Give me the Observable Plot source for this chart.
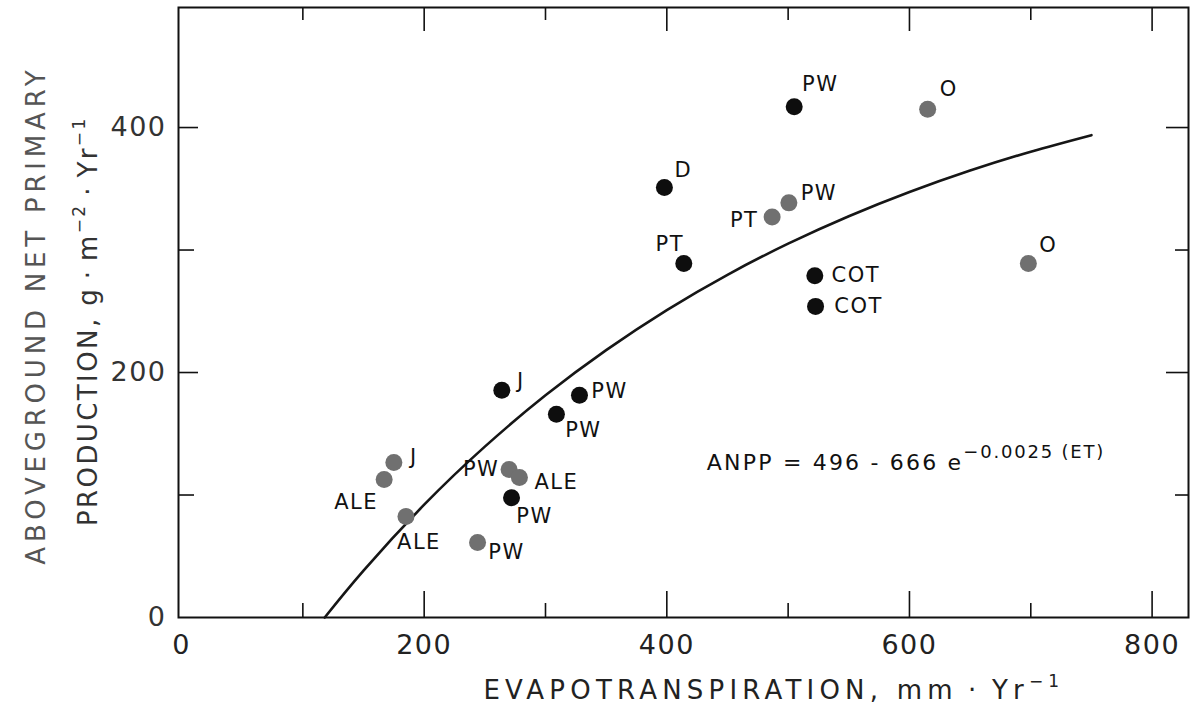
<!DOCTYPE html>
<html><head><meta charset="utf-8">
<script src="https://cdn.jsdelivr.net/npm/d3@7"></script>
<script src="https://cdn.jsdelivr.net/npm/@observablehq/plot@0.6"></script>
<style>html,body{margin:0;padding:0;background:#fff}</style>
</head><body><div id="chart"></div>
<script>
// ---- data ----
const sites = ["PW","D","PT","COT","COT","J","PW","PW","PW","PW","O","O","PT","J","ALE","ALE","PW","ALE","PW"];
const et    = [505, 398, 414, 522, 522.6, 264, 328, 309, 272, 500.6, 615, 698, 486.8, 175, 167, 185, 270, 278.5, 244];
const anpp  = [417, 351, 289, 279, 254, 185.5, 181.5, 166, 97.7, 338.5, 415, 289, 327, 126.5, 112.7, 82.4, 120.8, 114.3, 61.2];
const tone  = ["dark","dark","dark","dark","dark","dark","dark","dark","dark","gray","gray","gray","gray","gray","gray","gray","gray","gray","gray"];

// fitted curve (ANPP = 496 - 666 e^(-0.0025 ET))
const curveET   = [118, 150, 200, 250, 300, 350, 400, 450, 500, 550, 600, 650, 700, 750];
const curveANPP = [0, 38.3, 92.1, 139.5, 181.4, 218.3, 251.0, 279.8, 305.2, 327.6, 347.4, 364.9, 380.3, 393.8];

const xTickLabels = [0, 200, 400, 600, 800];
const xMajor = [200, 400, 600, 800];
const xMinor = [100, 300, 500, 700];
const yTickLabels = [0, 200, 400];
const yMajor = [200, 400];
const yMinor = [100, 300];

const equation = [{et: 433, anpp: 126, text: "ANPP = 496 - 666 e", sup: "\u22120.0025 (ET)"}];

// label placement (pixel offsets from each dot to its label centre)
const labelPlace = [
  [26,-22],[19,-17],[-14,-19],[41,0],[43,0],[19,-9],[30,-4],[27,16],[23,18],[30,-10],
  [21,-20],[20,-18],[-28,3],[20,-5],[-28,23],[13,26],[-28,0],[37,5],[29,10]
];

const data = sites.map((s, i) => ({site: s, et: et[i], anpp: anpp[i], tone: tone[i]}));
const curve = curveET.map((x, i) => ({et: x, anpp: curveANPP[i]}));

const W = 1198, H = 708;
const mL = 178, mR = 10, mT = 7, mB = 91;
const fw = W - mL - mR, fh = H - mT - mB;

const labelMarks = data.map((d, i) => Plot.text([d], {
  x: "et", y: "anpp", text: "site",
  dx: labelPlace[i][0], dy: labelPlace[i][1],
  textAnchor: "middle", fontSize: 21, fill: "#111"
}));

const chart = Plot.plot({
  width: W, height: H,
  marginLeft: mL, marginRight: mR, marginTop: mT, marginBottom: mB,
  style: {fontFamily: "DejaVu Sans", background: "#fff", color: "#111"},
  x: {domain: [-2.5, 830], axis: null},
  y: {domain: [0, 498], axis: null},
  color: {domain: ["dark", "gray"], range: ["#0e0e0e", "#707070"]},
  marks: [
    // inward ticks
    Plot.ruleX(xMajor, {x: d => d, insetTop: fh - 26, stroke: "#111", strokeWidth: 1.6}),
    Plot.ruleX(xMinor, {x: d => d, insetTop: fh - 14, stroke: "#111", strokeWidth: 1.6}),
    Plot.ruleX(xMajor, {x: d => d, insetBottom: fh - 24, stroke: "#111", strokeWidth: 1.6}),
    Plot.ruleX(xMinor, {x: d => d, insetBottom: fh - 13, stroke: "#111", strokeWidth: 1.6}),
    Plot.ruleY(yMajor, {y: d => d, insetRight: fw - 20, stroke: "#111", strokeWidth: 1.6}),
    Plot.ruleY(yMinor, {y: d => d, insetRight: fw - 16, stroke: "#111", strokeWidth: 1.6}),
    Plot.ruleY(yMajor, {y: d => d, insetLeft: fw - 22, stroke: "#111", strokeWidth: 1.6}),
    Plot.ruleY(yMinor, {y: d => d, insetLeft: fw - 13, stroke: "#111", strokeWidth: 1.6}),
    Plot.frame({stroke: "#111", strokeWidth: 2}),
    // tick labels
    Plot.axisX({anchor: "bottom", ticks: xTickLabels, tickSize: 0, tickPadding: 17, fontSize: 27, label: null, fill: "#222"}),
    Plot.axisY({anchor: "left", ticks: yTickLabels, tickSize: 0, tickPadding: 12, fontSize: 27, label: null, fill: "#333"}),
    // fitted curve
    Plot.line(curve, {x: "et", y: "anpp", curve: "natural", stroke: "#161616", strokeWidth: 2.6}),
    // points
    Plot.dot(data, {x: "et", y: "anpp", fill: "tone", r: 8.5}),
    ...labelMarks,
    Plot.text(equation, {x: "et", y: "anpp", text: "text", textAnchor: "start", fontSize: 22, fill: "#111"})
  ]
});

const svg = d3.select(chart);
const siteSet = new Set(sites);
const tickSet = new Set(xTickLabels.concat(yTickLabels).map(String));
svg.selectAll("text").filter(function() { return siteSet.has(this.textContent); })
  .attr("letter-spacing", 1.5);
svg.selectAll("text").filter(function() { return tickSet.has(this.textContent); })
  .attr("letter-spacing", 1.5);

// superscript in the equation
svg.selectAll("text").filter(function() { return this.textContent === equation[0].text; })
  .attr("letter-spacing", 2.2)
  .each(function() {
    d3.select(this).append("tspan")
      .attr("font-size", 18).attr("dy", -12).attr("letter-spacing", 1.8)
      .text(equation[0].sup);
  });

// axis titles
const xt = svg.append("text")
  .attr("x", mL + fw * 0.59).attr("y", 699)
  .attr("text-anchor", "middle").attr("font-size", 26).attr("letter-spacing", 5.2)
  .attr("fill", "#222").attr("font-family", "DejaVu Sans");
xt.append("tspan").text("EVAPOTRANSPIRATION, mm\u2009\u00b7\u2009Yr");
xt.append("tspan").attr("font-size", 17).attr("dy", -12).text("\u22121");

svg.append("text")
  .attr("transform", `translate(45, ${mT + fh * 0.505}) rotate(-90)`)
  .attr("text-anchor", "middle").attr("font-size", 26).attr("letter-spacing", 4.8)
  .attr("fill", "#555").attr("font-family", "DejaVu Sans")
  .text("ABOVEGROUND NET PRIMARY");

const yt2 = svg.append("text")
  .attr("transform", `translate(97, ${mT + fh * 0.515}) rotate(-90)`)
  .attr("text-anchor", "middle").attr("font-size", 26).attr("letter-spacing", 2.4)
  .attr("fill", "#333").attr("font-family", "DejaVu Sans");
yt2.append("tspan").text("PRODUCTION, g\u2009\u00b7\u2009m");
yt2.append("tspan").attr("font-size", 17).attr("dy", -12).text("\u22122");
yt2.append("tspan").attr("dy", 12).text("\u2009\u00b7\u2009Yr");
yt2.append("tspan").attr("font-size", 17).attr("dy", -12).text("\u22121");

document.getElementById("chart").appendChild(chart);
</script>
</body></html>
